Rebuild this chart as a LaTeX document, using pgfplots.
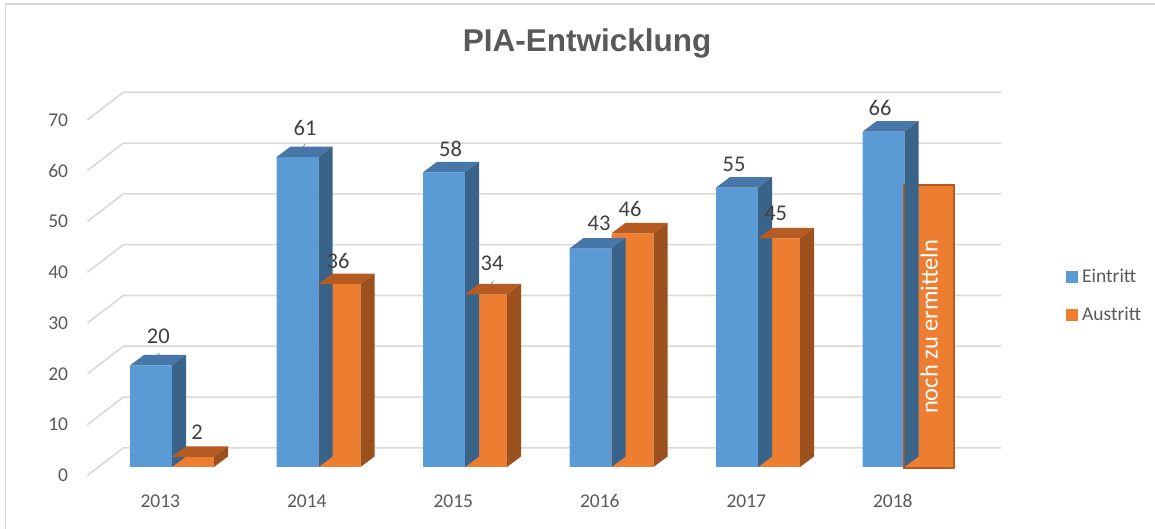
\documentclass[border=0pt]{standalone}
\usepackage{pgfplots}
\pgfplotsset{compat=1.18}
\usepackage{pgfplotstable}
\usepackage{fontspec}
\setmainfont{Carlito}
\newfontfamily\titlefont{Liberation Sans}
\definecolor{blueF}{HTML}{5B9BD5}
\definecolor{blueT}{HTML}{4677A8}
\definecolor{blueS}{HTML}{3A6389}
\definecolor{orF}{HTML}{ED7D31}
\definecolor{orT}{HTML}{B65B22}
\definecolor{orS}{HTML}{9C501E}
\definecolor{gridc}{HTML}{D9D9D9}
\definecolor{tickc}{HTML}{595959}
\definecolor{labc}{HTML}{404040}
\definecolor{boxb}{HTML}{B85A1E}

\newcommand\defcube[4]{%
  \pgfdeclareplotmark{#1}{%
    \pgfpathmoveto{\pgfpoint{#2}{0pt}}%
    \pgfpathlineto{\pgfpoint{#2+42pt}{0pt}}%
    \pgfpathlineto{\pgfpoint{#2+56pt}{10.5pt}}%
    \pgfpathlineto{\pgfpoint{#2+14pt}{10.5pt}}%
    \pgfpathclose
    \pgfsetfillcolor{#3}\pgfusepath{fill}%
    \pgfpathmoveto{\pgfpoint{#2+42pt}{0pt}}%
    \pgfpathlineto{\pgfpoint{#2+56pt}{10.5pt}}%
    \pgfpathlineto{\pgfpoint{#2+56pt}{10.5pt-\hpt pt}}%
    \pgfpathlineto{\pgfpoint{#2+42pt}{-\hpt pt}}%
    \pgfpathclose
    \pgfsetfillcolor{#4}\pgfusepath{fill}%
  }}
\defcube{cubeE}{-42pt}{blueT}{blueS}
\defcube{cubeA}{0pt}{orT}{orS}

\pgfplotstableread{
i  E   A    lxE    lyE   lxA   lyA
0  20  2    -13.7  28.9  25.0  24.8
1  61  36   -13.5  29.1  19.5  23.6
2  58  34   -14.5  23.4  27.0  31.3
3  43  46   -12.5  25.6  18.5  24.3
4  55  45   -24.0  23.6  17.7  25.4
5  66  nan  -24.5  24.2  0     0
}\data

\begin{document}
\begin{tikzpicture}
\path[use as bounding box] (0pt,0pt) rectangle (1155pt,529pt);
\draw[gridc, line width=1.5pt] (5.7pt,0pt) -- (5.7pt,525pt) -- (1155pt,525pt);
\node[anchor=base, font=\titlefont\bfseries\fontsize{31.5}{36}\selectfont, text=tickc] at (587pt,477pt) {PIA-Entwicklung};
\begin{axis}[
  at={(84.1pt,62pt)}, anchor=south west,
  x=146.5pt, y=5.08pt,
  xmin=-0.6, xmax=5.7, ymin=0, ymax=70,
  clip=false,
  axis line style={draw=none},
  major tick length=0pt,
  xtick={0,...,5}, xticklabels={2013,2014,2015,2016,2017,2018},
  ytick={0,10,...,70},
  /pgf/number format/assume math mode=true,
  tick label style={font=\fontsize{19.5}{22}\selectfont, text=tickc, inner sep=0pt},
  xticklabel style={anchor=center, xshift=-11.7pt, yshift=-34pt},
  yticklabel style={anchor=east, xshift=-15.8pt, yshift=-8.5pt},
  legend image code/.code={\fill[#1] (0pt,-5.85pt) rectangle (11.7pt,5.85pt);},
  legend style={draw=none, fill=none, at={(1.0638,0.556)}, anchor=north west,
    inner sep=0pt, row sep=22.8pt, font=\fontsize{19.5}{22}\selectfont, text=tickc,
    nodes={inner sep=0pt}, /tikz/every odd column/.append style={column sep=4.3pt}},
  legend cell align=left,
]
\pgfplotsinvokeforeach{0,10,...,70}{
  \draw[gridc, line width=1.6pt] ([yshift=-8.5pt]axis cs:-0.578,#1) -- ++(36pt,27.6pt) -- ++(877.7pt,0pt);
}
\addlegendimage{fill=blueF, draw=none}
\addlegendentry{Eintritt}
\addlegendimage{fill=orF, draw=none}
\addlegendentry{Austritt}

\addplot[ybar, bar width=42pt, bar shift=-21pt, fill=blueF, draw=none, forget plot] table[x=i, y=E]{\data};
\addplot[scatter, only marks, mark=cubeE, forget plot, point meta=y,
  visualization depends on={\thisrow{E}*5.08 \as \hpt},
  visualization depends on={\thisrow{lxE} \as \lx},
  visualization depends on={\thisrow{lyE} \as \ly},
  nodes near coords,
  every node near coord/.append style={anchor=center, xshift=\lx pt, yshift=\ly pt,
    font=\fontsize{22.5}{26}\selectfont, text=labc, inner sep=0pt},
] table[x=i, y=E]{\data};

\addplot[ybar, bar width=42pt, bar shift=21pt, fill=orF, draw=none, forget plot] table[x=i, y=A]{\data};
\addplot[scatter, only marks, mark=cubeA, forget plot, point meta=y,
  visualization depends on={\thisrow{A}*5.08 \as \hpt},
  visualization depends on={\thisrow{lxA} \as \lx},
  visualization depends on={\thisrow{lyA} \as \ly},
  nodes near coords,
  every node near coord/.append style={anchor=center, xshift=\lx pt, yshift=\ly pt,
    font=\fontsize{22.5}{26}\selectfont, text=labc, inner sep=0pt},
] table[x=i, y=A]{\data};

\draw[black!35, line width=1.2pt] ([xshift=-12.7pt,yshift=12.4pt]axis cs:0,20) -- ([xshift=-21pt,yshift=1.4pt]axis cs:0,20);
\draw[black!35, line width=1.2pt] ([xshift=-13.5pt,yshift=13.1pt]axis cs:1,61) -- ([xshift=-21.2pt,yshift=0.4pt]axis cs:1,61);
\draw[black!35, line width=1.2pt] ([xshift=28.3pt,yshift=13.3pt]axis cs:2,34) -- ([xshift=20pt,yshift=0.3pt]axis cs:2,34);

\node[rotate=90, draw=boxb, fill=orF, line width=2pt, minimum width=283pt, minimum height=50pt,
  inner sep=0pt, text=white, font=\fontsize{24.5}{28}\selectfont] at (axis cs:5.169,27.6) {noch zu ermitteln};
\end{axis}
\end{tikzpicture}
\end{document}
